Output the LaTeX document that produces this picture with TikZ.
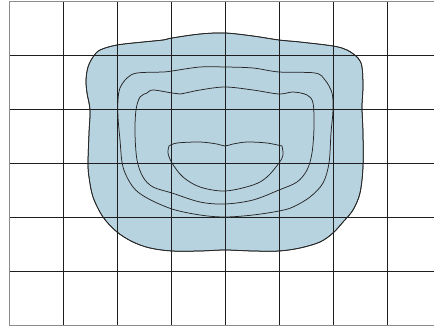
\documentclass[tikz,border=0pt]{standalone}
\definecolor{blobfill}{RGB}{184,211,224}
\definecolor{gridcol}{RGB}{30,30,30}
\definecolor{bordercol}{RGB}{140,140,140}
\tikzset{
  gridline/.style={draw=gridcol, line width=0.8pt},
  borderline/.style={draw=bordercol, line width=1.1pt},
  contour/.style={draw=black!85, line width=0.75pt},
}
\begin{document}
\begin{tikzpicture}[x=1pt,y=-1pt]
\useasboundingbox (0,0) rectangle (434,327);
% outer filled region
\filldraw[fill=blobfill, contour] plot[smooth cycle, tension=0.55] coordinates {
 (93,57) (100,50) (117,45) (143,42) (163,40) (172,38) (200,34) (225,33) (253,36)
 (279,40) (300,42) (333,46) (347,50) (358,58) (362,67) (363,87) (362,107)
 (363,133) (363,167) (360,193) (353,210) (343,222) (333,233) (320,242) (300,248)
 (279,251) (253,251) (225,250) (200,251) (172,251) (150,248) (133,242) (117,232)
 (103,217) (93,197) (89,177) (88,163) (89,133) (90,110) (87,93) (86,80) (88,67)};
% grid
\foreach \x in {63.3,117.3,171.3,225.3,279.3,333.3,387.3}
  \draw[gridline] (\x,1.7) -- (\x,325.5);
\foreach \y in {55.8,109.8,163.7,217.7,271.8}
  \draw[gridline] (9.3,\y) -- (434,\y);
\draw[borderline] (434,1.7) -- (9.3,1.7) -- (9.3,325.5) -- (434,325.5);
% outline redrawn on top
\draw[contour] plot[smooth cycle, tension=0.55] coordinates {
 (93,57) (100,50) (117,45) (143,42) (163,40) (172,38) (200,34) (225,33) (253,36)
 (279,40) (300,42) (333,46) (347,50) (358,58) (362,67) (363,87) (362,107)
 (363,133) (363,167) (360,193) (353,210) (343,222) (333,233) (320,242) (300,248)
 (279,251) (253,251) (225,250) (200,251) (172,251) (150,248) (133,242) (117,232)
 (103,217) (93,197) (89,177) (88,163) (89,133) (90,110) (87,93) (86,80) (88,67)};
% contour 2
\draw[contour] plot[smooth cycle, tension=0.55] coordinates {
 (118,100) (120,88) (127,78) (137,73) (163,72) (172,71) (200,67) (225,67) (253,68)
 (279,72) (315,73) (325,80) (332,93) (333,110) (331,133) (329,163) (323,183)
 (310,197) (293,207) (279,211) (253,215) (225,217) (200,215) (172,209) (147,198)
 (133,187) (123,167) (120,140) (118,117)};
% contour 3
\draw[contour] plot[smooth cycle, tension=0.55] coordinates {
 (136,110) (140,97) (147,93) (153,90) (172,93) (180,94) (200,90) (225,87) (253,90)
 (279,94) (293,92) (307,95) (313,103) (314,127) (312,153) (307,170) (297,182)
 (279,190) (253,200) (225,204) (200,202) (172,193) (153,187) (143,177) (137,160)
 (135,133)};
% innermost contour
\draw[contour] plot[smooth, tension=0.5] coordinates {
 (169,146) (177,143) (200,142) (217,144) (225,146) (233,144) (247,142) (267,143) (282,146)}
 -- plot[smooth, tension=0.55] coordinates {
 (282,146) (283,155) (279,163) (267,177) (253,185) (225,191) (200,187) (183,177)
 (172,163) (168,153) (169,146)} -- cycle;
\end{tikzpicture}
\end{document}
